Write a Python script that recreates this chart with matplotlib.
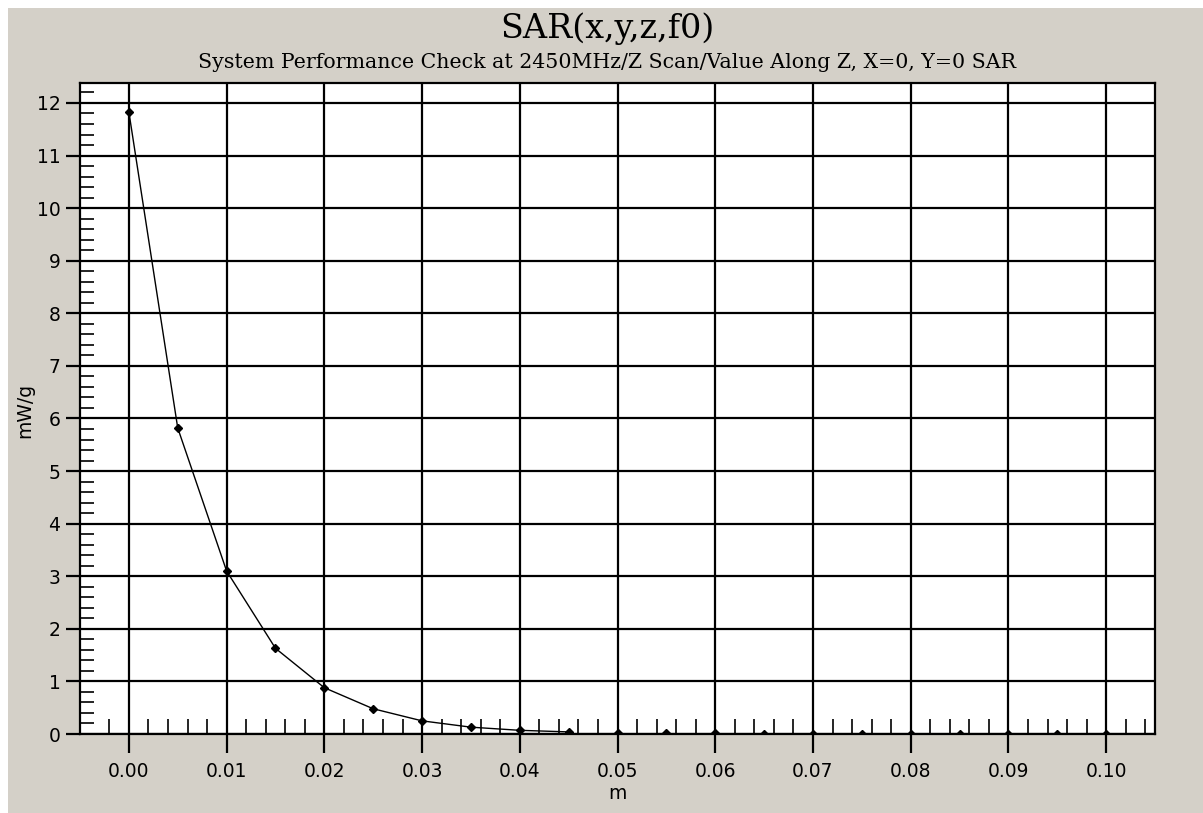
import matplotlib.pyplot as plt
from matplotlib.patches import Rectangle
from matplotlib.ticker import MultipleLocator, FixedLocator

# Valores SAR a lo largo de Z
z_m = [0.000, 0.005, 0.010, 0.015, 0.020, 0.025, 0.030, 0.035, 0.040, 0.045,
       0.050, 0.055, 0.060, 0.065, 0.070, 0.075, 0.080, 0.085, 0.090, 0.095, 0.100]
sar = [11.83, 5.82, 3.10, 1.63, 0.88, 0.48, 0.25, 0.13, 0.07, 0.04,
       0.02, 0.01, 0.01, 0.0, 0.0, 0.0, 0.0, 0.0, 0.0, 0.0, 0.0]
n_linea = 10  # la curva solo se dibuja hasta ~0.045

titulo = "SAR(x,y,z,f0)"
subtitulo = "System Performance Check at 2450MHz/Z Scan/Value Along Z, X=0, Y=0 SAR"

fondo = "#d4d0c8"
W, H = 1203, 813

fig = plt.figure(figsize=(W / 100, H / 100), dpi=100, facecolor="white")
fig.patches.append(Rectangle((8 / W, 0), 1 - 8 / W, 1 - 8 / H,
                             transform=fig.transFigure, facecolor=fondo,
                             edgecolor="none", zorder=-10))

ax = fig.add_axes([80 / W, 1 - 734 / H, (1155 - 80) / W, (734 - 83) / H])
ax.set_facecolor("white")

ax.plot(z_m[:n_linea], sar[:n_linea], color="black", lw=1.0, zorder=3)
ax.plot(z_m, sar, ls="none", marker="D", ms=4, color="black", zorder=4)

ax.set_xlim(-0.005, 0.105)
ax.set_ylim(0, 12.38)
ax.xaxis.set_major_locator(MultipleLocator(0.01))
ax.xaxis.set_minor_locator(FixedLocator([i * 0.002 for i in range(-1, 53)]))
ax.yaxis.set_major_locator(MultipleLocator(1))
ax.yaxis.set_minor_locator(MultipleLocator(0.2))
ax.xaxis.set_major_formatter(lambda v, p: f"{v:.2f}")

ax.grid(True, which="major", color="black", lw=1.6)
ax.tick_params(axis="x", which="major", direction="out", length=14, width=1.6,
               labelsize=13.5, pad=6)
ax.tick_params(axis="y", which="major", direction="out", length=10, width=1.6,
               labelsize=13.5, pad=4)
ax.tick_params(axis="x", which="minor", direction="in", length=11, width=1.2)
ax.tick_params(axis="y", which="minor", direction="in", length=10, width=1.2)
for s in ax.spines.values():
    s.set_color("black")
    s.set_linewidth(1.6)

ax.set_xlabel("m", fontsize=13.5, va="center")
ax.set_ylabel("mW/g", fontsize=13.5, va="center")
ax.xaxis.set_label_coords(0.5, (734 - 793) / 651)
ax.yaxis.set_label_coords((25 - 80) / 1075, (734 - 410) / 651)

fig.text(607 / W, 1 - 38 / H, titulo, ha="center", va="baseline",
         family="DejaVu Serif", fontsize=24)
fig.text(607 / W, 1 - 68 / H, subtitulo, ha="center", va="baseline",
         family="DejaVu Serif", fontsize=14.8)

fig.savefig("out.png", dpi=100, facecolor=fig.get_facecolor())
